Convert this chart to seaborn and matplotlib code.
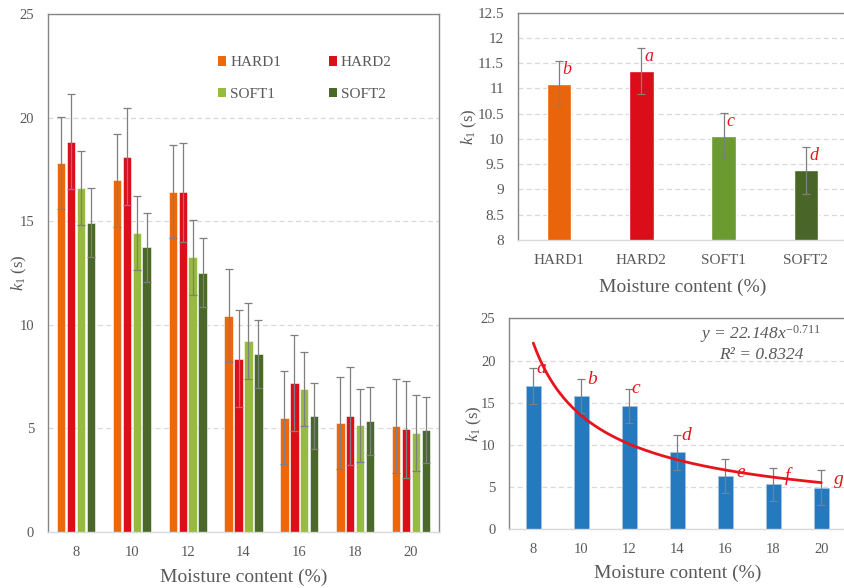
import numpy as np
import pandas as pd
import matplotlib
matplotlib.use('Agg')
import matplotlib.pyplot as plt
import seaborn as sns
from matplotlib.patches import Patch
from matplotlib.ticker import FuncFormatter

# ---------------- data ----------------
moisture = [8, 10, 12, 14, 16, 18, 20]
varieties = ['HARD1', 'HARD2', 'SOFT1', 'SOFT2']

k1_hard1 = [17.82, 16.97, 16.42, 10.44, 5.52, 5.28, 5.12]
sd_hard1 = [2.22, 2.24, 2.24, 2.24, 2.24, 2.22, 2.26]
k1_hard2 = [18.84, 18.11, 16.39, 8.37, 7.18, 5.60, 4.96]
sd_hard2 = [2.30, 2.35, 2.37, 2.34, 2.31, 2.35, 2.34]
k1_soft1 = [16.59, 14.43, 13.26, 9.22, 6.90, 5.15, 4.76]
sd_soft1 = [1.78, 1.79, 1.80, 1.82, 1.79, 1.77, 1.84]
k1_soft2 = [14.93, 13.74, 12.52, 8.58, 5.60, 5.34, 4.91]
sd_soft2 = [1.66, 1.67, 1.65, 1.65, 1.61, 1.64, 1.60]

variety_mean = [11.09, 11.35, 10.06, 9.38]
variety_sd = [0.45, 0.46, 0.46, 0.46]
variety_letters = ['b', 'a', 'c', 'd']

moisture_mean = [16.98, 15.79, 14.61, 9.12, 6.32, 5.33, 4.93]
moisture_sd = [2.09, 1.98, 2.05, 2.05, 1.97, 1.97, 2.07]
moisture_letters = ['a', 'b', 'c', 'd', 'e', 'f', 'g']

equation_label = 'y = 22.148x$^{-0.711}$'
r2_label = 'R² = 0.8324'

# label placement (not data)
moisture_letter_y = [19.07, 17.77, 16.66, 11.17, 6.76, 6.36, 5.85]
moisture_letter_dx = [0.07, 0.12, 0.04, 0.08, 0.24, 0.23, 0.26]

# ---------------- style ----------------
sns.set_theme(style='white')
plt.rcParams['font.family'] = ['Liberation Serif', 'DejaVu Serif']
plt.rcParams['mathtext.fontset'] = 'custom'
plt.rcParams['mathtext.rm'] = 'Liberation Serif'
plt.rcParams['mathtext.it'] = 'Liberation Serif:italic'
plt.rcParams['mathtext.default'] = 'it'

GRAY = '#595959'
SPINE = '#868686'
GRID = '#d9d9d9'
ERR = '#7f7f7f'
RED = '#E8141C'

left_colors = {'HARD1': '#EC680C', 'HARD2': '#DC0E19', 'SOFT1': '#97BB3E', 'SOFT2': '#4A6829'}
tr_colors = {'HARD1': '#EA640C', 'HARD2': '#DA0D18', 'SOFT1': '#6B9A30', 'SOFT2': '#4A6528'}

W, H = 844, 588
fig = plt.figure(figsize=(W / 100, H / 100), dpi=100)


def px_axes(x0, y_top, x1, y_bottom):
    return fig.add_axes([x0 / W, 1 - y_bottom / H, (x1 - x0) / W, (y_bottom - y_top) / H])


def style(ax, ticksize):
    for s in ['left', 'top', 'right']:
        ax.spines[s].set_color(SPINE)
        ax.spines[s].set_linewidth(1.0)
    ax.spines['bottom'].set_color(GRID)
    ax.spines['bottom'].set_linewidth(1.0)
    ax.yaxis.grid(True, linestyle=(0, (4, 2.6)), color=GRID, linewidth=0.9)
    ax.xaxis.grid(False)
    ax.set_axisbelow(True)
    ax.tick_params(axis='both', length=0, labelcolor=GRAY, labelsize=ticksize)
    ax.tick_params(axis='y', pad=10)
    ax.tick_params(axis='x', pad=10)


def add_err(ax, container, sds):
    xs = [b.get_x() + b.get_width() / 2 for b in container]
    ys = [b.get_height() for b in container]
    ax.errorbar(xs, ys, yerr=sds, fmt='none', ecolor=ERR, elinewidth=0.9,
                capsize=3, capthick=0.9, zorder=3)
    return xs, ys


# ---------------- left panel ----------------
rows = []
for v, vals in zip(varieties, [k1_hard1, k1_hard2, k1_soft1, k1_soft2]):
    for m, val in zip(moisture, vals):
        rows.append({'moisture': m, 'variety': v, 'k1': val})
df = pd.DataFrame(rows)

ax1 = px_axes(48, 14, 439, 532)
sns.barplot(data=df, x='moisture', y='k1', hue='variety', hue_order=varieties,
            palette=left_colors, saturation=1, width=0.71, gap=0.16, errorbar=None,
            legend=False, edgecolor='white', linewidth=0.4, ax=ax1)
for cont, sds in zip(ax1.containers, [sd_hard1, sd_hard2, sd_soft1, sd_soft2]):
    add_err(ax1, cont, sds)
style(ax1, 10.5)
ax1.set_xlim(-0.5, 6.5)
ax1.set_ylim(0, 25)
ax1.set_yticks(range(0, 26, 5))
ax1.set_xlabel('Moisture content (%)', fontsize=14, color=GRAY)
ax1.set_ylabel(r'$k_\mathrm{1}$ (s)', fontsize=12, color=GRAY)
ax1.xaxis.set_label_coords(0.5, -0.071)
ax1.yaxis.set_label_coords(-0.049, 0.5)
# legend filled row-wise: HARD1 HARD2 / SOFT1 SOFT2
leg_order = ['HARD1', 'SOFT1', 'HARD2', 'SOFT2']
handles = [Patch(facecolor=left_colors[v], edgecolor='none', label=v) for v in leg_order]
leg = ax1.legend(handles=handles, ncol=2, frameon=False, loc='upper left',
                 bbox_to_anchor=(0.435, 0.918), borderpad=0, borderaxespad=0,
                 handlelength=0.55, handleheight=0.55, handletextpad=0.25,
                 columnspacing=3.1, labelspacing=1.2, fontsize=11)
for t in leg.get_texts():
    t.set_color(GRAY)

# ---------------- top-right panel ----------------
ax2 = px_axes(518, 12.7, 847, 240)
sns.barplot(x=varieties, y=variety_mean, hue=varieties, palette=tr_colors,
            saturation=1, width=0.3, legend=False, ax=ax2)
xs2 = []
for cont, sd in zip(ax2.containers, variety_sd):
    xs, ys = add_err(ax2, cont, [sd])
    xs2.append(xs[0])
style(ax2, 11)
ax2.set_xlim(-0.5, 3.5)
ax2.set_ylim(8, 12.5)
ax2.set_yticks(np.arange(8, 12.51, 0.5))
ax2.yaxis.set_major_formatter(FuncFormatter(lambda v, p: f'{v:g}'))
ax2.set_xlabel('Moisture content (%)', fontsize=14, color=GRAY)
ax2.set_ylabel(r'$k_\mathrm{1}$ (s)', fontsize=12, color=GRAY)
ax2.xaxis.set_label_coords(0.5, -0.172)
ax2.yaxis.set_label_coords(-0.12, 0.5)
for x, m, s, lab in zip(xs2, variety_mean, variety_sd, variety_letters):
    ax2.text(x + 0.04, m + s - 0.17, lab, color=RED, fontstyle='italic',
             fontsize=13, ha='left', va='center')

# ---------------- bottom-right panel ----------------
ax3 = px_axes(509.3, 318.3, 845.3, 529.3)
sns.barplot(x=moisture, y=moisture_mean, color='#2479BF', saturation=1, width=0.31,
            edgecolor='#9DC3E6', linewidth=0.6, ax=ax3)
xs3, _ = add_err(ax3, ax3.containers[0], moisture_sd)
style(ax3, 10.5)
ax3.set_xlim(-0.5, 6.5)
ax3.set_ylim(0, 25)
ax3.set_yticks(range(0, 26, 5))
ax3.set_xlabel('Moisture content (%)', fontsize=14, color=GRAY)
ax3.set_ylabel(r'$k_\mathrm{1}$ (s)', fontsize=12, color=GRAY)
ax3.xaxis.set_label_coords(0.5, -0.168)
ax3.yaxis.set_label_coords(-0.076, 0.5)

# power trendline fitted to the bar means (Excel-style, x = 1..n)
idx = np.arange(1, len(moisture_mean) + 1)
slope, intercept = np.polyfit(np.log(idx), np.log(moisture_mean), 1)
xx = np.linspace(1, len(moisture_mean), 200)
ax3.plot(xx - 1, np.exp(intercept) * xx ** slope, color=RED, linewidth=2.0, zorder=4)

for x, y, dx, lab in zip(xs3, moisture_letter_y, moisture_letter_dx, moisture_letters):
    ax3.text(x + dx, y, lab, color=RED, fontstyle='italic', fontsize=14,
             ha='left', va='center', zorder=5)

ax3.text(4.74, 23.1, equation_label, color=GRAY, fontstyle='italic', fontsize=12.5,
         ha='center', va='center')
ax3.text(4.76, 20.65, r2_label, color=GRAY, fontstyle='italic', fontsize=12.5,
         ha='center', va='center')

fig.savefig('out.png', dpi=100)
